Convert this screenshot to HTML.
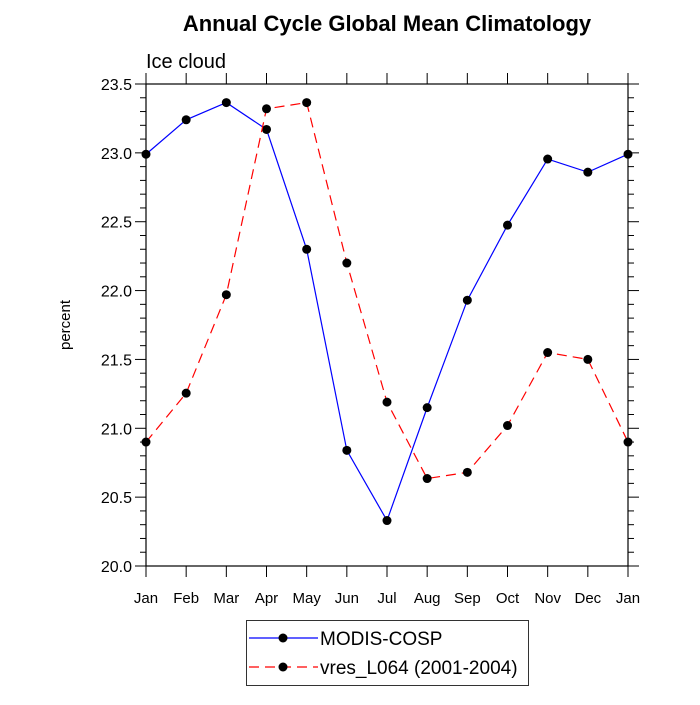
<!DOCTYPE html>
<html><head><meta charset="utf-8"><style>
body{margin:0;background:#fff}
text{font-family:"Liberation Sans",sans-serif}
</style></head><body>
<svg id="c" width="700" height="700" xmlns="http://www.w3.org/2000/svg"></svg>
<script>
const months=["Jan","Feb","Mar","Apr","May","Jun","Jul","Aug","Sep","Oct","Nov","Dec","Jan"];
const modis=[22.99,23.24,23.365,23.17,22.30,20.84,20.33,21.15,21.93,22.475,22.955,22.86,22.99];
const vres=[20.90,21.255,21.97,23.32,23.365,22.20,21.19,20.635,20.68,21.02,21.55,21.50,20.90];
const yTicks=[20.0,20.5,21.0,21.5,22.0,22.5,23.0,23.5];
const X0=146,X1=628,Y0=566,Y1=84,ymin=20,ymax=23.5;
const sx=i=>X0+(X1-X0)*i/(months.length-1);
const sy=v=>Y0-(Y0-Y1)*(v-ymin)/(ymax-ymin);
const svg=document.getElementById('c');const NS="http://www.w3.org/2000/svg";
function el(t,a,p){const e=document.createElementNS(NS,t);for(const k in a)e.setAttribute(k,a[k]);(p||svg).appendChild(e);return e;}
let t=el('text',{x:387,y:31,'text-anchor':'middle','font-size':22,'font-weight':'bold'});t.textContent="Annual Cycle Global Mean Climatology";


t=el('text',{x:146,y:68,'font-size':20});t.textContent="Ice cloud";


t=el('text',{x:0,y:0,'font-size':15,'text-anchor':'middle',transform:'translate(70,325) rotate(-90)'});t.textContent="percent";


let fr=el('rect',{x:X0,y:Y1,width:X1-X0,height:Y0-Y1,fill:'none',stroke:'#000','stroke-width':1.2});


// y ticks
for(let v=20;v<=23.5001;v+=0.1){const y=sy(v);const maj=Math.abs(v*2-Math.round(v*2))<1e-6;const L=maj?11:6;
el('line',{x1:X0-L,x2:X0,y1:y,y2:y,stroke:'#000'});el('line',{x1:X1,x2:X1+L,y1:y,y2:y,stroke:'#000'});}
yTicks.forEach(v=>{const e=el('text',{x:X0-14,y:sy(v)+6,'text-anchor':'end','font-size':16});e.textContent=v.toFixed(1);

});
months.forEach((m,i)=>{const x=sx(i);el('line',{x1:x,x2:x,y1:Y0,y2:Y0+11,stroke:'#000'});el('line',{x1:x,x2:x,y1:Y1-11,y2:Y1,stroke:'#000'});
const e=el('text',{x:x,y:603,'text-anchor':'middle','font-size':15});e.textContent=m;

});
function series(d,col,dash,name){const g=el('g',{});


el('polyline',{points:d.map((v,i)=>sx(i)+','+sy(v)).join(' '),fill:'none',stroke:col,'stroke-width':1.2,'stroke-dasharray':dash},g);
d.forEach((v,i)=>{const c=el('circle',{cx:sx(i),cy:sy(v),r:4.5,fill:'#000'},g);

});}
series(modis,'#0000ff','none','modis-series');
series(vres,'#ff0000','10 6','vres-series');
const lg=el('g',{});


el('rect',{x:246.5,y:620.5,width:282,height:65,fill:'#fff',stroke:'#000','stroke-width':0.8},lg);
el('line',{x1:249,x2:318,y1:638,y2:638,stroke:'#0000ff','stroke-width':1.2},lg);
el('circle',{cx:283,cy:638,r:4.5},lg);
el('line',{x1:249,x2:318,y1:667,y2:667,stroke:'#ff0000','stroke-width':1.2,'stroke-dasharray':'10 6'},lg);
el('circle',{cx:283,cy:667,r:4.5},lg);
t=el('text',{x:320,y:645,'font-size':19},lg);t.textContent="MODIS-COSP";


t=el('text',{x:320,y:674,'font-size':19},lg);t.textContent="vres_L064 (2001-2004)";


</script>
</body></html>
